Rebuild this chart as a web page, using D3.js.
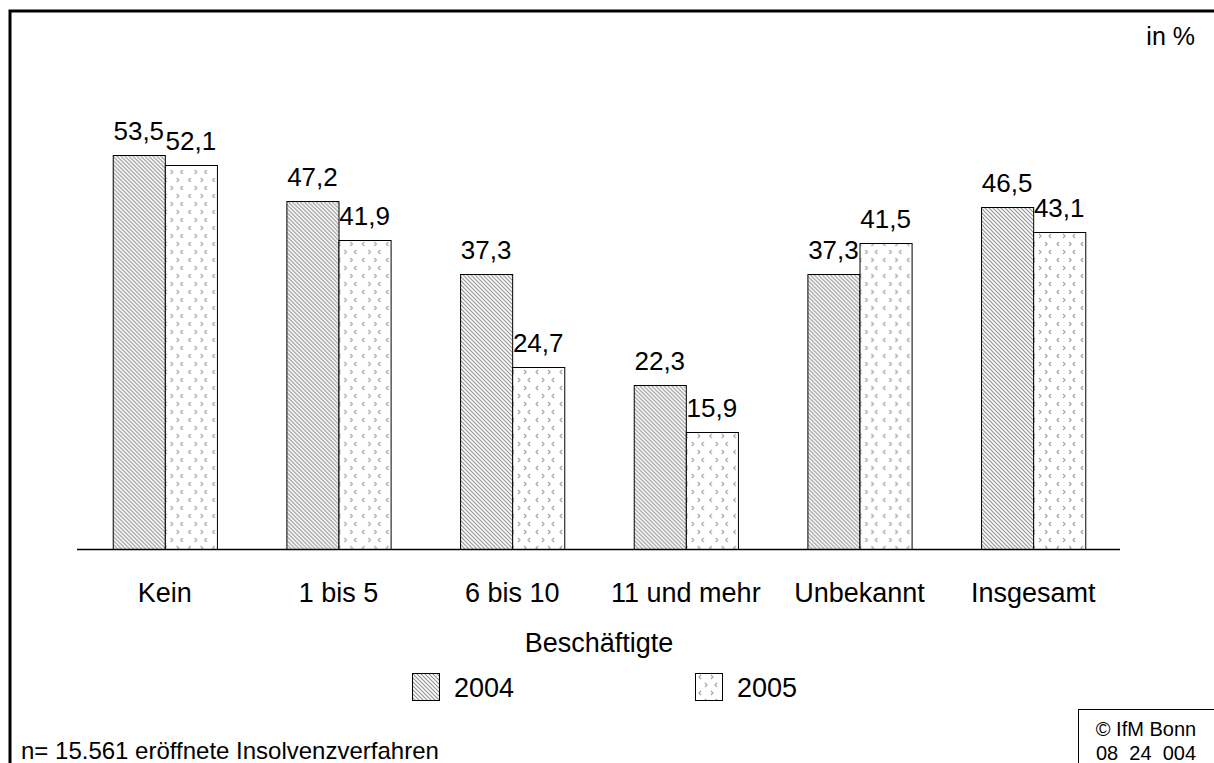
<!DOCTYPE html>
<html>
<head>
<meta charset="utf-8">
<script src="https://cdn.jsdelivr.net/npm/d3@7"></script>
<style>
  body { margin: 0; background: #fff; }
  svg { font-family: Arial, "Liberation Sans", sans-serif; }
</style>
</head>
<body>
<div class="container"></div>
<script>
var categories = ["Kein", "1 bis 5", "6 bis 10", "11 und mehr", "Unbekannt", "Insgesamt"];
var years = ["2004", "2005"];
var values2004 = [53.5, 47.2, 37.3, 22.3, 37.3, 46.5];
var values2005 = [52.1, 41.9, 24.7, 15.9, 41.5, 43.1];

var W = 1214, H = 763;
var left = 78, right = 1120, base = 549;

var svg = d3.select('.container')
  .append('svg')
  .attr('width', W)
  .attr('height', H);

/* ===== patterns ===== */
var defs = svg.append('defs');

var p1 = defs.append('pattern')
  .attr('id', 'pat2004')
  .attr('patternUnits', 'userSpaceOnUse')
  .attr('width', 4).attr('height', 4);
p1.append('rect').attr('width', 4).attr('height', 4).attr('fill', '#fff');
p1.append('path')
  .attr('d', 'M-1,-1 L5,5 M-1,3 L1,5 M3,-1 L5,1')
  .attr('stroke', '#959595')
  .attr('stroke-width', 1.2);

// scattered little "<" and ">" marks
var p2 = defs.append('pattern')
  .attr('id', 'pat2005')
  .attr('patternUnits', 'userSpaceOnUse')
  .attr('width', 24).attr('height', 16);
p2.append('rect').attr('width', 24).attr('height', 16).attr('fill', '#fff');
p2.append('path')
  .attr('d', 'M6,2 L4,4 L6,6 M16,2 L18,4 L16,6 M10,10 L12,12 L10,14 M22,10 L20,12 L22,14')
  .attr('fill', 'none')
  .attr('stroke', '#a0a0a0')
  .attr('stroke-width', 1.1);

var fills = {"2004": "url(#pat2004)", "2005": "url(#pat2005)"};

/* ===== frame ===== */
svg.append('path')
  .attr('d', 'M10,' + H + ' L10,11 L' + W + ',11')
  .attr('fill', 'none')
  .attr('stroke', '#000')
  .attr('stroke-width', 3);

/* ===== scales ===== */
var x0 = d3.scaleBand().domain(categories).range([left, right]).paddingInner(0.4).paddingOuter(0.2);
var x1 = d3.scaleBand().domain(years).range([0, x0.bandwidth()]);
var y = d3.scaleLinear().domain([0, 53.5]).range([base, 155]);

var data = categories.map(function(c, i) {
  return {cat: c, vals: [{year: "2004", v: values2004[i]}, {year: "2005", v: values2005[i]}]};
});

var group = svg.selectAll('g.grp')
  .data(data)
  .enter()
  .append('g')
  .attr('class', 'grp')
  .attr('transform', function(d) { return 'translate(' + x0(d.cat) + ',0)'; });

group.selectAll('rect')
  .data(function(d) { return d.vals; })
  .enter()
  .append('rect')
  .attr('x', function(d) { return x1(d.year) + 0.5; })
  .attr('y', function(d) { return Math.round(y(d.v)) + 0.5; })
  .attr('width', x1.bandwidth())
  .attr('height', function(d) { return base - Math.round(y(d.v)); })
  .attr('fill', function(d) { return fills[d.year]; })
  .attr('stroke', '#000')
  .attr('stroke-width', 1);

group.selectAll('text.val')
  .data(function(d) { return d.vals; })
  .enter()
  .append('text')
  .attr('class', 'val')
  .attr('x', function(d) { return x1(d.year) + x1.bandwidth() / 2; })
  .attr('y', function(d) { return y(d.v) - 15; })
  .attr('text-anchor', 'middle')
  .attr('font-size', '26px')
  .text(function(d) { return d.v.toFixed(1).replace('.', ','); });

/* ===== axis ===== */
var xAxis = d3.axisBottom(x0).tickSize(0);
var ax = svg.append('g')
  .attr('transform', 'translate(0,' + base + ')')
  .call(xAxis);
ax.select('.domain')
  .attr('d', 'M' + (left - 1) + ',0.5H' + right)
  .attr('stroke', '#000')
  .attr('stroke-width', 1.5);
ax.selectAll('.tick text')
  .attr('y', 53)
  .attr('dy', 0)
  .attr('font-size', '27px')
  .attr('font-family', 'Arial, "Liberation Sans", sans-serif')
  .attr('fill', '#000');

svg.append('text')
  .attr('x', (left + right) / 2)
  .attr('y', 652)
  .attr('text-anchor', 'middle')
  .attr('font-size', '27px')
  .text('Beschäftigte');

/* ===== legend ===== */
var legX = [412, 695];
var leg = svg.selectAll('g.leg')
  .data(years)
  .enter()
  .append('g')
  .attr('class', 'leg')
  .attr('transform', function(d, i) { return 'translate(' + legX[i] + ',673)'; });
leg.append('rect')
  .attr('x', 0.5).attr('y', 0.5)
  .attr('width', 27).attr('height', 27)
  .attr('fill', function(d) { return fills[d]; })
  .attr('stroke', '#000');
leg.append('text')
  .attr('x', 42)
  .attr('y', 24)
  .attr('font-size', '27px')
  .text(function(d) { return d; });

/* ===== notes ===== */
svg.append('text')
  .attr('x', 1195).attr('y', 45)
  .attr('text-anchor', 'end')
  .attr('font-size', '25px')
  .text('in %');

svg.append('text')
  .attr('x', 21).attr('y', 759)
  .attr('font-size', '24px')
  .text('n= 15.561 eröffnete Insolvenzverfahren');

svg.append('rect')
  .attr('x', 1078.5).attr('y', 709.5)
  .attr('width', 140).attr('height', 60)
  .attr('fill', 'none')
  .attr('stroke', '#000');
svg.append('text')
  .attr('x', 1146).attr('y', 736)
  .attr('text-anchor', 'middle')
  .attr('font-size', '20px')
  .text('© IfM Bonn');
svg.append('text')
  .attr('x', 1146).attr('y', 760)
  .attr('text-anchor', 'middle')
  .attr('font-size', '20px')
  .style('white-space', 'pre')
  .text('08  24  004');
</script>
</body>
</html>
